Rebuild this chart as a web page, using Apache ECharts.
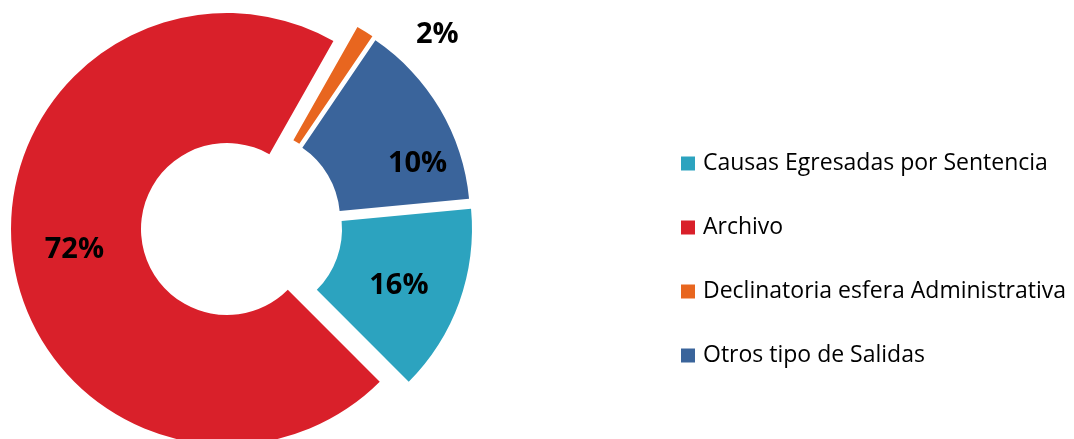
<!DOCTYPE html>
<html>
<head>
<meta charset="utf-8">
<script src="https://cdn.jsdelivr.net/npm/echarts@6/dist/echarts.min.js"></script>
<style>
  html, body { margin: 0; padding: 0; background: #fff; }
  #main { width: 1074px; height: 439px; }
</style>
</head>
<body>
<div id="main"></div>
<script>
// categorias y valores (angulos)
var categorias = ['Causas Egresadas por Sentencia', 'Archivo', 'Declinatoria esfera Administrativa', 'Otros tipo de Salidas'];
var valores = [14.0, 70.7, 1.3, 14.0];
// porcentajes impresos en el grafico
var etiquetas = ['16%', '72%', '2%', '10%'];
var colores = ['#2CA3BF', '#D9202A', '#E8661F', '#3A649B'];

// centro de cada sector (sectores separados estilo Excel)
var centros = [[256, 229], [227, 229], [251, 215], [254, 219]];
// posicion de la etiqueta y desplazamiento [dx, dy]
var posiciones = ['inside', 'inside', 'outside', 'inside'];
var desplaz = [[-2, 5], [0, 0], [0, 3], [31, 23]];

var myChart = echarts.init(document.getElementById('main'));

function etiqueta(j) {
	var dy = desplaz[j][1];
	if (dy > 0) return '{t| }\n{v|' + etiquetas[j] + '}';
	if (dy < 0) return '{v|' + etiquetas[j] + '}\n{t| }';
	return '{v|' + etiquetas[j] + '}';
}

var option = {
	animation : false,
	legend : {
		orient : 'vertical',
		left : 681,
		top : 152,
		padding : 0,
		icon : 'rect',
		itemWidth : 14,
		itemHeight : 14,
		itemGap : 41,
		selectedMode : false,
		textStyle : {
			fontFamily : 'Open Sans',
			fontSize : 23,
			color : '#000',
			padding : [0, 0, 0, 3]
		},
		data : (function() {
			var arr = [];
			for (var i = 0; i < categorias.length; i++) {
				arr.push({ name : categorias[i], itemStyle : { color : colores[i] } });
			}
			return arr;
		})()
	},
	// una serie por sector, cada una con su propio centro
	series : (function() {
		var series = [];
		for (var k = 0; k < categorias.length; k++) {
			series.push({
				name : categorias[k],
				type : 'pie',
				center : centros[k],
				radius : [ 86, 216 ],
				startAngle : 5.4,
				clockwise : true,
				avoidLabelOverlap : false,
				silent : true,
				emphasis : { disabled : true },
				data : (function() {
					var a = [];
					for (var j = 0; j < categorias.length; j++) {
						var visible = (j == k);
						var dx = desplaz[j][0];
						a.push({
							name : categorias[j],
							value : valores[j],
							itemStyle : { color : visible ? colores[j] : 'rgba(0,0,0,0)' },
							labelLine : { show : false, length : 0, length2 : 46 },
							label : {
								show : visible,
								position : posiciones[j],
								formatter : etiqueta(j),
								padding : dx > 0 ? [0, 0, 0, 2 * dx] : [0, -2 * dx, 0, 0],
								rich : {
									v : {
										fontFamily : 'Open Sans',
										fontWeight : 'bold',
										fontSize : 29,
										lineHeight : 34,
										color : '#000'
									},
									t : {
										fontSize : 2,
										height : Math.abs(2 * desplaz[j][1]),
										lineHeight : Math.abs(2 * desplaz[j][1])
									}
								}
							}
						});
					}
					return a;
				})()
			});
		}
		return series;
	})()
};
myChart.setOption(option);
</script>
</body>
</html>
